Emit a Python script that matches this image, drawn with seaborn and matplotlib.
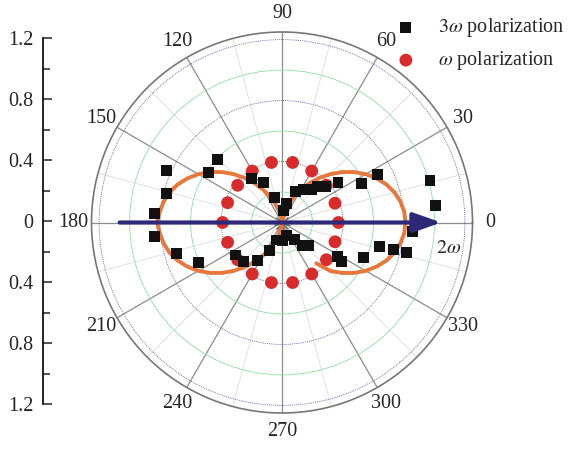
import numpy as np
import matplotlib
matplotlib.use("Agg")
import matplotlib.pyplot as plt
import seaborn as sns

# 3w polarization (angle in degrees, normalised intensity)
theta_3w = [135.7, 155.9, 145.9, 166.0, 175.9, 186.1, 196.2, 205.7, 215.2, 225.4,
            237.1, 245.2, 124.4, 115.2, 106.1, 253.2, 35.3, 26.2, 26.6, 16.0,
            6.2, 356.0, 346.0, 346.4, 346.3, 336.8, 328.3, 326.7, 76.2, 67.1,
            56.8, 47.6, 45.9, 39.8, 290.6, 306.6, 311.2, 318.2, 85.0, 271.0]
r_3w = [0.59, 0.83, 0.58, 0.78, 0.84, 0.84, 0.72, 0.61, 0.37, 0.36,
        0.30, 0.20, 0.35, 0.29, 0.17, 0.12, 0.45, 0.58, 0.70, 1.01,
        1.01, 0.86, 0.66, 0.75, 0.84, 0.58, 0.43, 0.47, 0.13, 0.22,
        0.26, 0.29, 0.33, 0.37, 0.09, 0.14, 0.20, 0.23, 0.08, 0.12]

# w polarization
theta_w = [0, 20, 40, 60, 80, 100, 120, 140, 160,
           180, 200, 220, 240, 260, 280, 300, 320, 340]
r_w = [0.37, 0.37, 0.38, 0.39, 0.40, 0.40, 0.39, 0.38, 0.38,
       0.39, 0.38, 0.38, 0.39, 0.40, 0.40, 0.39, 0.38, 0.37]

# fitted curve (orange)
theta_fit = list(range(-50, 275, 5))
r_fit = [0.35, 0.45, 0.515, 0.577, 0.634, 0.685, 0.729, 0.764, 0.789, 0.805,
         0.81,
         0.805, 0.789, 0.764, 0.729, 0.685, 0.634, 0.577, 0.515, 0.449, 0.382,
         0.315, 0.249, 0.187, 0.131, 0.081, 0.041, 0.013, 0.0,
         0.013, 0.041, 0.081, 0.131, 0.187, 0.249, 0.315, 0.382, 0.449, 0.515,
         0.577, 0.634, 0.685, 0.729, 0.764, 0.789, 0.805, 0.82,
         0.805, 0.789, 0.764, 0.729, 0.685, 0.634, 0.577, 0.515, 0.449, 0.382,
         0.315, 0.249, 0.187, 0.131, 0.081, 0.041, 0.013, 0.0]

angle_ticks = list(range(0, 360, 30))
r_grid = [0.2, 0.4, 0.6, 0.8, 1.0, 1.2]
r_max = 1.25
scale_ticks = [-1.2, -0.8, -0.4, 0, 0.4, 0.8, 1.2]
scale_labels = ["1.2", "0.8", "0.4", "0", "0.4", "0.8", "1.2"]

sns.set_style("white")
plt.rcParams["font.family"] = "serif"
plt.rcParams["font.serif"] = ["Liberation Serif", "DejaVu Serif"]
plt.rcParams["mathtext.fontset"] = "stix"
fs = 14.5

fig = plt.figure(figsize=(5.74, 4.5), dpi=100)
ax = fig.add_axes([0.1594, 0.0822, 0.6638, 0.8467], projection="polar")

sns.lineplot(x=np.radians(theta_fit), y=r_fit, sort=False, ax=ax,
             color="#e8773a", lw=2.8, zorder=3)
sns.scatterplot(x=np.radians(theta_w), y=r_w, ax=ax, marker="o", color="#d92b2b",
                s=85, edgecolor="none", zorder=4, label=r"$\omega$ polarization")
sns.scatterplot(x=np.radians(theta_3w), y=r_3w, ax=ax, marker="s", color="#111111",
                s=62, edgecolor="none", zorder=5, label=r"$3\omega$ polarization")

ax.set_ylim(0, r_max)
ax.set_yticks(r_grid)
ax.set_yticklabels([])
ax.set_xticks(np.radians(angle_ticks))
ax.set_xticklabels([str(a) for a in angle_ticks], fontsize=fs)
ax.set_xticks(np.radians(np.arange(15, 360, 30)), minor=True)
ax.tick_params(axis="x", which="major", pad=6, length=0)
ax.xaxis.set_tick_params(which="minor", tick1On=True, tick2On=False, direction="in",
                         length=6, width=1.0, color="#666666")
ax.xaxis.grid(True, which="major", color="#8c8c8c", lw=0.9, ls="-")
ax.xaxis.grid(True, which="minor", color="#dddddd", lw=0.6, ls="-")
ax.yaxis.grid(True)
for tick, r in zip(ax.yaxis.get_major_ticks(), r_grid):
    if round(r / 0.2) % 2 == 0:
        tick.gridline.set(color="#4b4bc0", lw=0.6, ls=(0, (1, 1.3)))
    else:
        tick.gridline.set(color="#8fe0a6", lw=0.6, ls="-")
ax.spines["polar"].set(color="#777777", lw=1.2)
ax.set_xlabel("")
ax.set_ylabel("")

# polarisation direction arrow
ax.annotate("", xy=(0, 1.045), xytext=(np.pi, 1.065),
            arrowprops=dict(arrowstyle="-|>,head_length=1.7,head_width=0.6",
                            color="#2d2878", lw=3, shrinkA=0, shrinkB=0,
                            mutation_scale=10), zorder=6)
fig.text(0.781, 0.447, r"$2\omega$", fontsize=fs, ha="center", va="center")

# legend
handles, labels = ax.get_legend_handles_labels()
if ax.get_legend() is not None:
    ax.get_legend().remove()
order = [labels.index(r"$3\omega$ polarization"), labels.index(r"$\omega$ polarization")]
fig.legend([handles[i] for i in order], [labels[i] for i in order],
           loc="upper left", bbox_to_anchor=(0.665, 0.995), frameon=False,
           fontsize=fs, handlelength=1.0, handletextpad=1.1, labelspacing=0.5,
           borderaxespad=0.3)

# linear scale bar on the left
sax = fig.add_axes([0.0749, 0.1022, 0.0001, 0.8133])
sax.set_ylim(-1.2, 1.2)
sax.set_yticks(scale_ticks)
sax.set_yticklabels(scale_labels, fontsize=fs)
sax.set_yticks([-1.0, -0.6, -0.2, 0.2, 0.6, 1.0], minor=True)
sax.set_xticks([])
for s in ["top", "right", "bottom"]:
    sax.spines[s].set_visible(False)
sax.spines["left"].set(color="black", lw=1.2)
sax.tick_params(axis="y", which="both", left=True, direction="in", width=1.1)
sax.tick_params(axis="y", which="major", length=6.5, pad=7)
sax.tick_params(axis="y", which="minor", length=5)
sax.patch.set_alpha(0)

fig.savefig("out.png", dpi=100)
